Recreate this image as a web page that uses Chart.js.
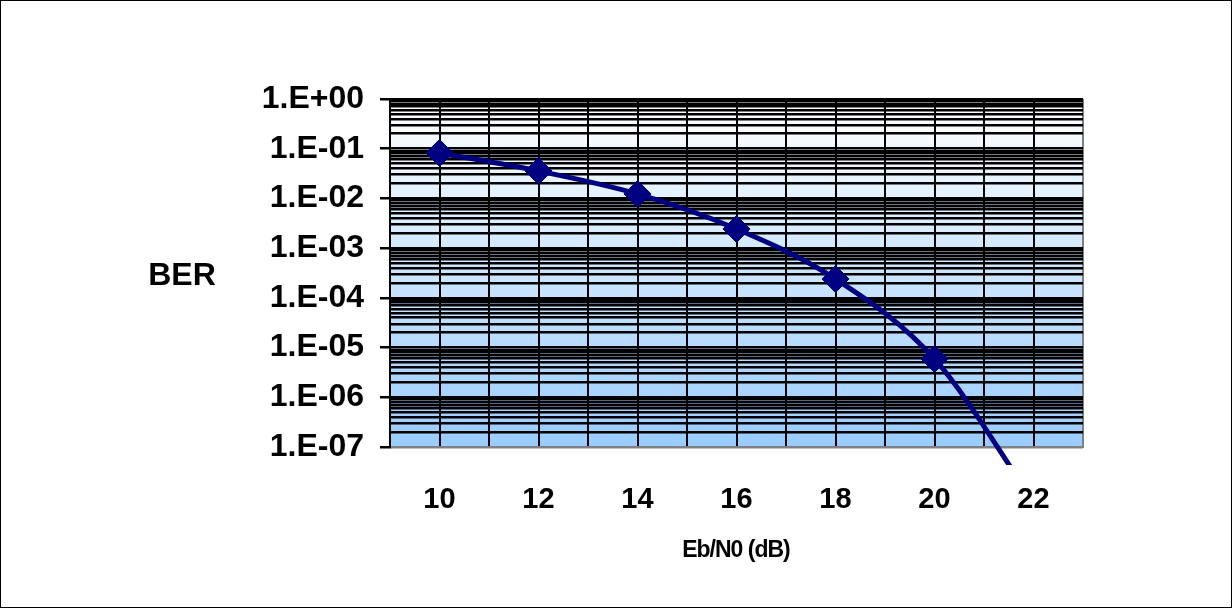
<!DOCTYPE html>
<html>
<head>
<meta charset="utf-8">
<script src="https://cdn.jsdelivr.net/npm/chart.js@4.4.1/dist/chart.umd.min.js"></script>
<style>
  html, body { margin: 0; padding: 0; background: #fff; }
  #wrap { width: 1232px; height: 608px; position: relative; }
</style>
</head>
<body>
<div id="wrap"><canvas id="berChart"></canvas></div>
<script>
const ebN0 = [10, 12, 14, 16, 18, 20, 22];
const ber = [0.082, 0.0356, 0.0123, 0.00243, 0.00024, 0.0000059, 0.000000008];

// axis ticks
const xGridTicks = [9, 10, 11, 12, 13, 14, 15, 16, 17, 18, 19, 20, 21, 22, 23];
const xTickLabels = [10, 12, 14, 16, 18, 20, 22];
const berDecades = [1e0, 1e-1, 1e-2, 1e-3, 1e-4, 1e-5, 1e-6, 1e-7];
const berTickLabels = ['1.E+00', '1.E-01', '1.E-02', '1.E-03', '1.E-04', '1.E-05', '1.E-06', '1.E-07'];

const FONT = '"Liberation Sans", Arial, sans-serif';

function isDecade(v) {
    const l = Math.log10(v);
    return Math.abs(l - Math.round(l)) < 1e-9;
}

// plot background + outer frame + the two axis captions
const excelLook = {
    id: 'excelLook',
    beforeDraw(chart) {
        const {ctx, chartArea: a, width, height} = chart;
        ctx.save();
        ctx.fillStyle = '#fff';
        ctx.fillRect(0, 0, width, height);
        const g = ctx.createLinearGradient(0, a.top, 0, a.bottom);
        g.addColorStop(0, '#ffffff');
        g.addColorStop(1, '#99ccff');
        ctx.fillStyle = g;
        ctx.fillRect(a.left, a.top, a.right - a.left, a.bottom - a.top);
        ctx.restore();
    },
    afterDraw(chart) {
        const {ctx, width, height} = chart;
        ctx.save();
        ctx.strokeStyle = '#000';
        ctx.lineWidth = 1;
        ctx.strokeRect(0.5, 0.5, width - 1, height - 1);
        ctx.fillStyle = '#000';
        ctx.font = 'bold 32px ' + FONT;
        ctx.textAlign = 'center';
        ctx.textBaseline = 'alphabetic';
        ctx.fillText('BER', 182, 285);
        ctx.font = 'bold 23px ' + FONT;
        ctx.letterSpacing = '-1px';
        ctx.fillText('Eb/N0 (dB)', 736, 557);
        ctx.restore();
    }
};

const ctx = document.getElementById('berChart').getContext('2d');
const berChart = new Chart(ctx, {
    type: 'line',
    data: {
        labels: ebN0,
        datasets: [{
            data: ebN0.map((x, i) => ({x: x, y: ber[i]})),
            borderColor: '#000080',
            backgroundColor: '#000080',
            borderWidth: 5,
            pointStyle: 'rectRot',
            pointRadius: 13.5,
            pointHoverRadius: 13.5,
            pointBorderWidth: 1,
            cubicInterpolationMode: 'monotone',
            clip: {left: 20, top: 20, right: 20, bottom: 18}
        }]
    },
    options: {
        responsive: true,
        maintainAspectRatio: false,
        animation: false,
        events: [],
        layout: {padding: {left: 0, right: 149, top: 99, bottom: 0}},
        plugins: {legend: {display: false}, tooltip: {enabled: false}},
        scales: {
            x: {
                type: 'linear',
                min: 9,
                max: 23,
                afterBuildTicks: (scale) => {
                    scale.ticks = xGridTicks.map(v => ({value: v}));
                },
                afterFit: (scale) => { scale.height = 161; },
                ticks: {
                    autoSkip: false,
                    maxRotation: 0,
                    padding: 36,
                    color: '#000',
                    font: {family: FONT, size: 29, weight: 'bold'},
                    callback: (v) => xTickLabels.includes(v) ? String(v) : ''
                },
                grid: {
                    drawTicks: false,
                    lineWidth: 2,
                    color: (c) => (c.tick && c.tick.value === 23) ? '#808080' : '#000'
                },
                border: {display: true, color: '#808080', width: 2}
            },
            y: {
                type: 'logarithmic',
                min: 1e-7,
                max: 1,
                afterBuildTicks: (scale) => {
                    const t = [];
                    for (let e = -7; e < 0; e++) {
                        for (let m = 1; m <= 9; m++) t.push({value: m * Math.pow(10, e)});
                    }
                    t.push({value: 1});
                    scale.ticks = t;
                },
                afterFit: (scale) => { scale.width = 390; },
                ticks: {
                    autoSkip: false,
                    padding: 16,
                    color: '#000',
                    font: {family: FONT, size: 32, weight: 'bold'},
                    callback: (v) => {
                        if (!isDecade(v)) return '';
                        const i = berDecades.findIndex(d => Math.abs(Math.log10(d) - Math.log10(v)) < 1e-9);
                        return i >= 0 ? berTickLabels[i] : '';
                    }
                },
                grid: {
                    tickLength: 10,
                    lineWidth: 2.5,
                    color: (c) => (c.tick && Math.abs(c.tick.value - 1e-7) < 1e-12) ? '#808080' : '#000',
                    tickColor: (c) => (c.tick && isDecade(c.tick.value)) ? '#000' : 'rgba(0,0,0,0)'
                },
                border: {display: true, color: '#000', width: 2}
            }
        }
    },
    plugins: [excelLook]
});
</script>
</body>
</html>
